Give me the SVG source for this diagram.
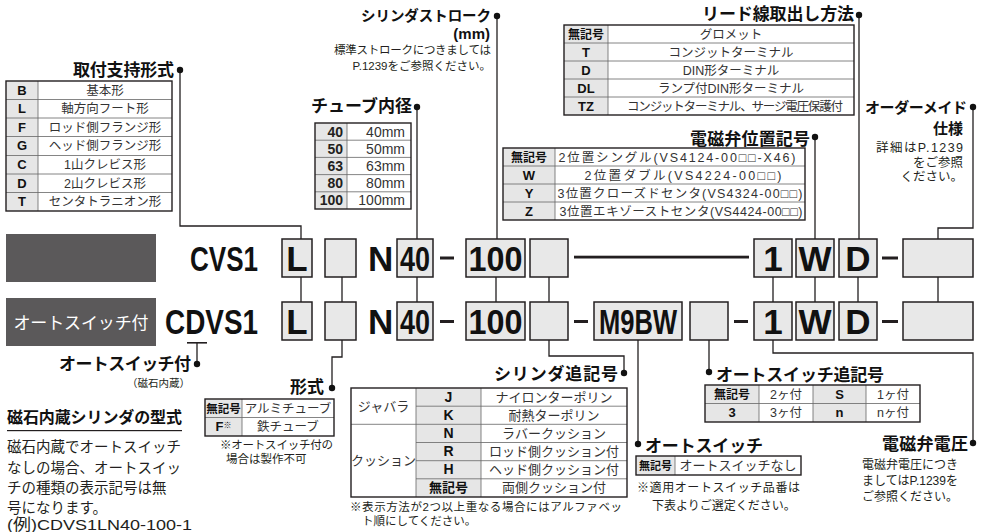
<svg xmlns="http://www.w3.org/2000/svg" width="981" height="532" viewBox="0 0 981 532">
<style>
text{font-family:"Liberation Sans","Noto Sans CJK JP",sans-serif;fill:#231f20}
.lb{font-size:17px;font-weight:700;fill:#111}
.s{font-size:11.5px}
.c{font-size:12.5px;fill:#333;text-anchor:middle}
.h{font-size:13px;font-weight:700;text-anchor:middle;fill:#111}
.big{font-size:35px;font-weight:700;fill:#111}
.m{text-anchor:middle}
.e{text-anchor:end}
.bx{fill:#e8e8e8;stroke:#231f20;stroke-width:1.5}
.ln{fill:none;stroke:#231f20;stroke-width:1.3}
.tb{fill:none;stroke:#231f20;stroke-width:1.4}
.gl{stroke:#666;stroke-width:0.8}
.gr{fill:#e6e6e6}
.dot{fill:#111}
.dash{fill:#231f20}
.dk{fill:#5b595a}
</style>

<g id="connectors">
  <path class="ln" d="M180,70 V226 H301 V239"/>
  <path class="ln" d="M417,107 V239"/>
  <path class="ln" d="M497,16 V239"/>
  <path class="ln" d="M815,137 V239"/>
  <path class="ln" d="M859,15 V239"/>
  <path class="ln" d="M973,107 V228 H938 V239"/>
  <path class="ln" d="M301,277 V302 M342,277 V302 M417,277 V302 M496,277 V302 M549,277 V302 M773,277 V302 M815,277 V302 M858,277 V302 M938,277 V302"/>
  <path class="ln" d="M197,343 V364"/>
  <path class="ln" d="M342,340 V357 H332 V388"/>
  <path class="ln" d="M549,340 V356 H624 V373"/>
  <path class="ln" d="M638,340 V444"/>
  <path class="ln" d="M709,340 V372"/>
  <path class="ln" d="M773,340 V353 H973 V443"/>
  <rect class="dash" x="574" y="255.7" width="175" height="2.8"/>
  <circle class="dot" cx="180" cy="70" r="3.2"/>
  <circle class="dot" cx="497" cy="16" r="3.2"/>
  <circle class="dot" cx="417" cy="107" r="3.2"/>
  <circle class="dot" cx="859" cy="15" r="3.2"/>
  <circle class="dot" cx="815" cy="137" r="3.2"/>
  <circle class="dot" cx="973" cy="107" r="3.2"/>
  <circle class="dot" cx="197" cy="364" r="3.2"/>
  <circle class="dot" cx="332" cy="388" r="3.2"/>
  <circle class="dot" cx="624" cy="373" r="3.2"/>
  <circle class="dot" cx="638" cy="444" r="3.2"/>
  <circle class="dot" cx="709" cy="372" r="3.2"/>
  <circle class="dot" cx="973" cy="443" r="3.2"/>
</g>

<g id="row-std">
  <rect class="dk" x="6" y="234" width="150" height="48"/>
  <text class="big" x="190" y="271" textLength="68" lengthAdjust="spacingAndGlyphs">CVS1</text>
  <rect class="bx" x="282" y="239" width="30" height="38"/>
  <text class="big m" x="297" y="271">L</text>
  <rect class="bx" x="325" y="239" width="31" height="38"/>
  <text class="big" x="368" y="271">N</text>
  <rect class="bx" x="397" y="239" width="36" height="38"/>
  <text class="big m" x="415" y="271" textLength="30" lengthAdjust="spacingAndGlyphs">40</text>
  <rect class="dash" x="440" y="256.5" width="14" height="3"/>
  <rect class="bx" x="466" y="239" width="59" height="38"/>
  <text class="big m" x="495.5" y="271" textLength="54" lengthAdjust="spacingAndGlyphs">100</text>
  <rect class="bx" x="530" y="239" width="38" height="38"/>
  <rect class="bx" x="754" y="239" width="38" height="38"/>
  <text class="big m" x="773" y="271">1</text>
  <rect class="bx" x="796" y="239" width="38" height="38"/>
  <text class="big m" x="815" y="271">W</text>
  <rect class="bx" x="839" y="239" width="38" height="38"/>
  <text class="big m" x="858" y="271">D</text>
  <rect class="dash" x="882" y="256.5" width="16" height="3"/>
  <rect class="bx" x="903" y="239" width="70" height="38"/>
</g>

<g id="row-switch">
  <rect class="dk" x="6" y="298" width="150" height="48"/>
  <text x="81" y="329" class="m" style="fill:#fff;font-size:17px" textLength="135">オートスイッチ付</text>
  <text class="big" x="165" y="334" textLength="93" lengthAdjust="spacingAndGlyphs">CDVS1</text>
  <rect class="dash" x="187" y="342" width="20" height="1.6"/>
  <rect class="bx" x="282" y="302" width="30" height="38"/>
  <text class="big m" x="297" y="334">L</text>
  <rect class="bx" x="325" y="302" width="31" height="38"/>
  <text class="big" x="368" y="334">N</text>
  <rect class="bx" x="397" y="302" width="36" height="38"/>
  <text class="big m" x="415" y="334" textLength="30" lengthAdjust="spacingAndGlyphs">40</text>
  <rect class="dash" x="440" y="320" width="14" height="3"/>
  <rect class="bx" x="466" y="302" width="59" height="38"/>
  <text class="big m" x="495.5" y="334" textLength="54" lengthAdjust="spacingAndGlyphs">100</text>
  <rect class="bx" x="530" y="302" width="38" height="38"/>
  <rect class="dash" x="574" y="320" width="14" height="3"/>
  <rect class="bx" x="594" y="302" width="88" height="38"/>
  <text class="big m" x="638" y="334" textLength="78" lengthAdjust="spacingAndGlyphs">M9BW</text>
  <rect class="bx" x="690" y="302" width="38" height="38"/>
  <rect class="dash" x="734" y="320" width="14" height="3"/>
  <rect class="bx" x="754" y="302" width="38" height="38"/>
  <text class="big m" x="773" y="334">1</text>
  <rect class="bx" x="796" y="302" width="38" height="38"/>
  <text class="big m" x="815" y="334">W</text>
  <rect class="bx" x="839" y="302" width="38" height="38"/>
  <text class="big m" x="858" y="334">D</text>
  <rect class="dash" x="882" y="320" width="16" height="3"/>
  <rect class="bx" x="903" y="302" width="70" height="38"/>
</g>

<g id="mount">
  <text class="lb e" x="174" y="76" textLength="101">取付支持形式</text>
  <rect class="gr" x="6" y="81" width="32" height="130"/>
  <path class="gl" d="M38,81 V211 M6,99.5 H172 M6,118 H172 M6,136.5 H172 M6,155.5 H172 M6,174 H172 M6,192.5 H172"/>
  <rect class="tb" x="6" y="81" width="166" height="130"/>
  <text class="h" x="22" y="94.5">B</text><text class="c" x="105" y="94.5">基本形</text>
  <text class="h" x="22" y="113">L</text><text class="c" x="105" y="113">軸方向フート形</text>
  <text class="h" x="22" y="131.5">F</text><text class="c" x="105" y="131.5">ロッド側フランジ形</text>
  <text class="h" x="22" y="150">G</text><text class="c" x="105" y="150">ヘッド側フランジ形</text>
  <text class="h" x="22" y="169">C</text><text class="c" x="105" y="169">1山クレビス形</text>
  <text class="h" x="22" y="187.5">D</text><text class="c" x="105" y="187.5">2山クレビス形</text>
  <text class="h" x="22" y="206">T</text><text class="c" x="105" y="206">センタトラニオン形</text>
</g>

<g id="stroke">
  <text class="lb e" x="491" y="21" style="font-size:14.5px" textLength="130">シリンダストローク</text>
  <text class="lb e" x="490" y="39" style="font-size:15px">(mm)</text>
  <text class="s e" x="491" y="54" textLength="157">標準ストロークにつきましては</text>
  <text class="s e" x="491" y="70">P.1239をご参照ください。</text>
</g>

<g id="bore">
  <text class="lb e" x="412" y="112" textLength="101">チューブ内径</text>
  <rect class="gr" x="315" y="123" width="32" height="86"/>
  <path class="gl" d="M347,123 V209 M315,140.2 H411 M315,157.4 H411 M315,174.6 H411 M315,191.8 H411"/>
  <rect class="tb" x="315" y="123" width="96" height="86"/>
  <g style="font-size:14px;font-weight:700;text-anchor:end">
    <text x="343" y="136.5">40</text><text x="343" y="153.7">50</text><text x="343" y="170.9">63</text><text x="343" y="188.1">80</text><text x="343" y="205.3">100</text>
  </g>
  <g style="font-size:14px;text-anchor:end">
    <text x="405" y="136.5" style="fill:#333">40mm</text><text x="405" y="153.7" style="fill:#333">50mm</text><text x="405" y="170.9" style="fill:#333">63mm</text><text x="405" y="188.1" style="fill:#333">80mm</text><text x="405" y="205.3" style="fill:#333">100mm</text>
  </g>
</g>

<g id="lead">
  <text class="lb e" x="854" y="20" textLength="152">リード線取出し方法</text>
  <rect class="gr" x="564" y="25" width="44" height="90"/>
  <path class="gl" d="M608,25 V115 M564,43 H854 M564,61 H854 M564,79 H854 M564,97 H854"/>
  <rect class="tb" x="564" y="25" width="290" height="90"/>
  <text class="h" x="586" y="38.5" style="font-size:12px">無記号</text><text class="c" x="731" y="38.5">グロメット</text>
  <text class="h" x="586" y="56.5">T</text><text class="c" x="731" y="56.5">コンジットターミナル</text>
  <text class="h" x="586" y="74.5">D</text><text class="c" x="731" y="74.5">DIN形ターミナル</text>
  <text class="h" x="586" y="92.5">DL</text><text class="c" x="731" y="92.5">ランプ付DIN形ターミナル</text>
  <text class="h" x="586" y="110.5">TZ</text><text class="c" x="735" y="110.5" textLength="216">コンジットターミナル、サージ電圧保護付</text>
</g>

<g id="valve">
  <text class="lb e" x="810" y="145" textLength="120">電磁弁位置記号</text>
  <rect class="gr" x="503" y="148" width="52" height="72"/>
  <path class="gl" d="M555,148 V220 M503,166 H805 M503,184 H805 M503,202 H805"/>
  <rect class="tb" x="503" y="148" width="302" height="72"/>
  <text class="h" x="529" y="161.5" style="font-size:12px">無記号</text><text class="c" x="677" y="161.5" textLength="237">2位置シングル(VS4124-00□□-X46)</text>
  <text class="h" x="529" y="179.5">W</text><text class="c" x="683" y="179.5" textLength="197">2位置ダブル(VS4224-00□□)</text>
  <text class="h" x="529" y="197.5">Y</text><text class="c" x="680" y="197.5" textLength="245">3位置クローズドセンタ(VS4324-00□□)</text>
  <text class="h" x="529" y="215.5">Z</text><text class="c" x="681" y="215.5" textLength="243">3位置エキゾーストセンタ(VS4424-00□□)</text>
</g>

<g id="order">
  <text class="lb e" x="967" y="113" style="font-size:15px" textLength="102">オーダーメイド</text>
  <text class="lb e" x="963" y="134" style="font-size:15px">仕様</text>
  <text class="e" x="963" y="152" style="font-size:12.5px" textLength="87">詳細はP.1239</text>
  <text class="e" x="963" y="167" style="font-size:12.5px">をご参照</text>
  <text class="e" x="963" y="181" style="font-size:12.5px">ください。</text>
</g>

<g id="magnet">
  <text class="lb e" x="191" y="370" textLength="132">オートスイッチ付</text>
  <text class="e" x="190" y="387" style="font-size:10.5px">（磁石内蔵）</text>
</g>

<g id="tube-type">
  <text class="lb e" x="324" y="393">形式</text>
  <rect class="gr" x="205" y="399" width="37" height="37"/>
  <path class="gl" d="M242,399 V436 M205,417.5 H334"/>
  <rect class="tb" x="205" y="399" width="129" height="37"/>
  <text class="h" x="223.5" y="412.5" style="font-size:11.5px">無記号</text><text class="c" x="288" y="412.5">アルミチューブ</text>
  <text class="h" x="223.5" y="431">F<tspan style="font-size:8px;font-weight:400" dy="-3">※</tspan></text><text class="c" x="288" y="431">鉄チューブ</text>
  <text x="220" y="449" style="font-size:11.5px" textLength="113">※オートスイッチ付の</text>
  <text x="226" y="463" style="font-size:11.5px">場合は製作不可</text>
</g>

<g id="cyl-suffix">
  <text class="lb e" x="618" y="380" textLength="124">シリンダ追記号</text>
  <rect class="gr" x="416" y="388" width="65" height="109"/>
  <path class="gl" d="M416,388 V497 M481,388 V497 M416,406.2 H627 M351,424.3 H627 M416,442.5 H627 M416,460.7 H627 M416,478.8 H627"/>
  <rect class="tb" x="351" y="388" width="276" height="109"/>
  <text class="c" x="383.5" y="410.5" style="font-size:13px">ジャバラ</text>
  <text class="c" x="383.5" y="465" style="font-size:13px">クッション</text>
  <text class="h" x="448.5" y="401.5" style="font-size:14px">J</text><text class="c" x="554" y="401.5" style="font-size:13px">ナイロンターポリン</text>
  <text class="h" x="448.5" y="419.7" style="font-size:14px">K</text><text class="c" x="554" y="419.7" style="font-size:13px">耐熱ターポリン</text>
  <text class="h" x="448.5" y="437.8" style="font-size:14px">N</text><text class="c" x="554" y="437.8" style="font-size:13px">ラバークッション</text>
  <text class="h" x="448.5" y="456" style="font-size:14px">R</text><text class="c" x="554" y="456" style="font-size:13px">ロッド側クッション付</text>
  <text class="h" x="448.5" y="474.2" style="font-size:14px">H</text><text class="c" x="554" y="474.2" style="font-size:13px">ヘッド側クッション付</text>
  <text class="h" x="448.5" y="492.3" style="font-size:13px">無記号</text><text class="c" x="554" y="492.3" style="font-size:13px">両側クッション付</text>
  <text x="350" y="511" style="font-size:11.5px" textLength="272">※表示方法が2つ以上重なる場合にはアルファベッ</text>
  <text x="362" y="525" style="font-size:11.5px">ト順にしてください。</text>
</g>

<g id="auto-switch">
  <text class="lb" x="645" y="452" textLength="118">オートスイッチ</text>
  <rect class="gr" x="636" y="456" width="39" height="19"/>
  <path class="gl" d="M675,456 V475"/>
  <rect class="tb" x="636" y="456" width="165" height="19"/>
  <text class="h" x="655.5" y="470" style="font-size:11px">無記号</text>
  <text class="c" x="738" y="470" style="font-size:13px">オートスイッチなし</text>
  <text x="637" y="492" style="font-size:12px" textLength="163">※適用オートスイッチ品番は</text>
  <text x="652" y="510" style="font-size:12px">下表よりご選定ください。</text>
</g>

<g id="switch-suffix">
  <text class="lb" x="716" y="381" textLength="168">オートスイッチ追記号</text>
  <rect class="gr" x="705" y="385" width="54" height="37"/>
  <rect class="gr" x="813" y="385" width="53" height="37"/>
  <path class="gl" d="M759,385 V422 M813,385 V422 M866,385 V422 M705,403.5 H920"/>
  <rect class="tb" x="705" y="385" width="215" height="37"/>
  <text class="h" x="732" y="398.5" style="font-size:12px">無記号</text><text class="c" x="786" y="398.5">2ヶ付</text>
  <text class="h" x="839.5" y="398.5">S</text><text class="c" x="893" y="398.5">1ヶ付</text>
  <text class="h" x="732" y="417">3</text><text class="c" x="786" y="417">3ヶ付</text>
  <text class="h" x="839.5" y="417">n</text><text class="c" x="893" y="417">nヶ付</text>
</g>

<g id="voltage">
  <text class="lb e" x="968" y="450" textLength="86">電磁弁電圧</text>
  <text class="m" x="910" y="469" style="font-size:12px">電磁弁電圧につき</text>
  <text class="m" x="910" y="485" style="font-size:12px">ましてはP.1239を</text>
  <text class="m" x="910" y="501" style="font-size:12px">ご参照ください。</text>
</g>

<g id="note">
  <text class="lb" x="7" y="423" style="font-size:16px" textLength="175">磁石内蔵シリンダの型式</text>
  <rect x="7" y="430" width="175" height="1.2" fill="#231f20"/>
  <g style="font-size:14.5px">
    <text x="7" y="452">磁石内蔵でオートスイッチ</text>
    <text x="7" y="473">なしの場合、オートスイッ</text>
    <text x="7" y="493">チの種類の表示記号は無</text>
    <text x="7" y="513">号になります。</text>
    <text x="7" y="530" style="font-size:15.5px" textLength="185" lengthAdjust="spacingAndGlyphs">(例)CDVS1LN40-100-1</text>
  </g>
</g>
</svg>
